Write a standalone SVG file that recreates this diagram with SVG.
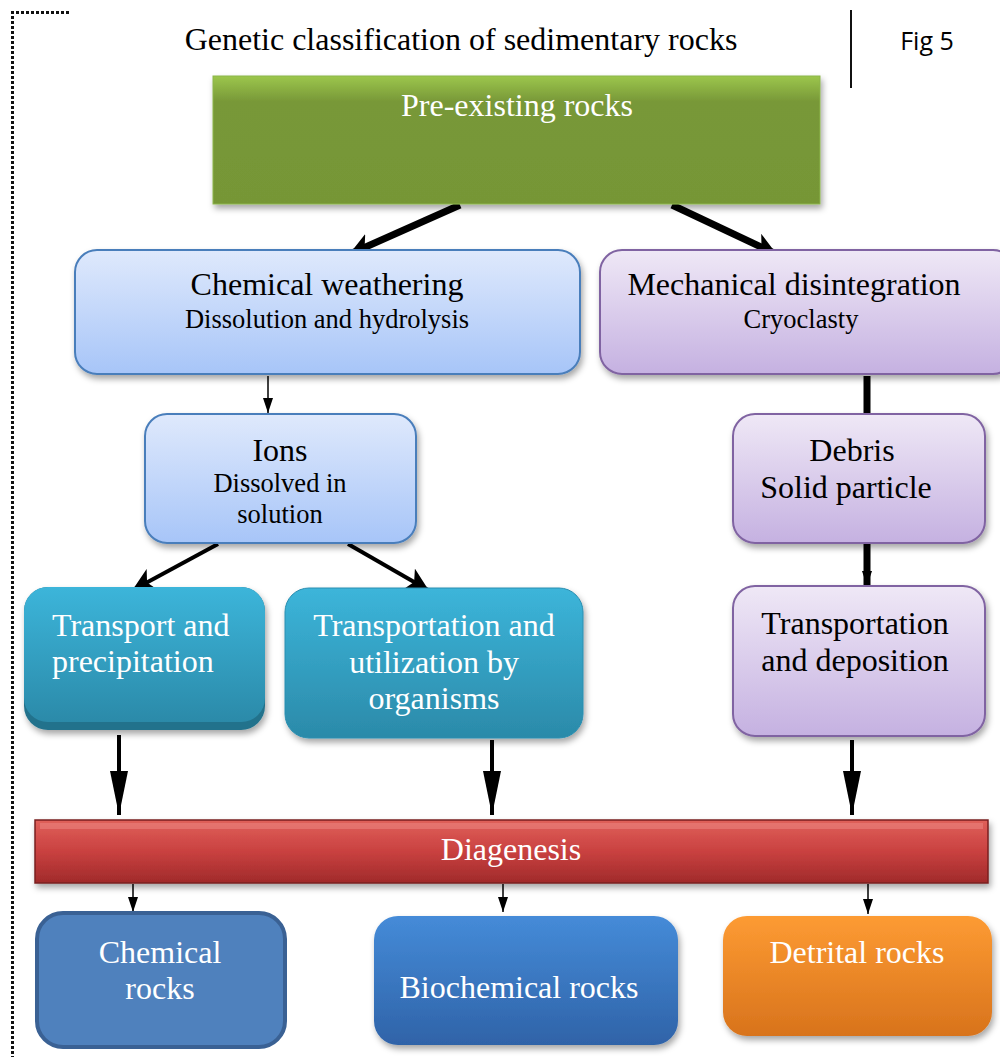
<svg xmlns="http://www.w3.org/2000/svg" width="1000" height="1057" viewBox="0 0 1000 1057">
<defs>
<style>
.t{font-family:"Liberation Serif","Times New Roman",serif;text-anchor:middle}
.big{font-size:32px}
.sm{font-size:26.5px}
.w{fill:#ffffff}
.k{fill:#000000}
.thick{stroke:#000;stroke-width:7;fill:none}
.mid{stroke:#000;stroke-width:4;fill:none}
.thin{stroke:#000;stroke-width:1.5;fill:none}
</style>
<linearGradient id="gGreen" x1="0" y1="0" x2="0" y2="1">
<stop offset="0" stop-color="#9cc64c"/><stop offset="0.2" stop-color="#789838"/><stop offset="1" stop-color="#769636"/>
</linearGradient>
<linearGradient id="gBlueL" x1="0" y1="0" x2="0" y2="1">
<stop offset="0" stop-color="#dfe9fc"/><stop offset="1" stop-color="#a7c5f8"/>
</linearGradient>
<linearGradient id="gPurp" x1="0" y1="0" x2="0" y2="1">
<stop offset="0" stop-color="#efe8f6"/><stop offset="1" stop-color="#c5b1e1"/>
</linearGradient>
<linearGradient id="gTeal" x1="0" y1="0" x2="0" y2="1">
<stop offset="0" stop-color="#3cb5da"/><stop offset="1" stop-color="#2b8aa9"/>
</linearGradient>
<linearGradient id="gRed" x1="0" y1="0" x2="0" y2="1">
<stop offset="0" stop-color="#e0605a"/><stop offset="0.5" stop-color="#c94140"/><stop offset="1" stop-color="#a02a2a"/>
</linearGradient>
<linearGradient id="gBio" x1="0" y1="0" x2="0" y2="1">
<stop offset="0" stop-color="#458bd8"/><stop offset="1" stop-color="#2f63a8"/>
</linearGradient>
<linearGradient id="gOrange" x1="0" y1="0" x2="0" y2="1">
<stop offset="0" stop-color="#fd9b33"/><stop offset="1" stop-color="#d8731c"/>
</linearGradient>
<filter id="sh" x="-10%" y="-10%" width="125%" height="130%">
<feDropShadow dx="2" dy="4" stdDeviation="3" flood-color="#000" flood-opacity="0.35"/>
</filter>
<marker id="ahBig" markerUnits="userSpaceOnUse" markerWidth="46" markerHeight="20" refX="44" refY="10" orient="auto" viewBox="0 0 46 20">
<path d="M0,1 L44,10 L0,19 Z" fill="#000"/>
</marker>
<marker id="ahT" markerUnits="userSpaceOnUse" markerWidth="24" markerHeight="24" refX="22" refY="12" orient="auto" viewBox="0 0 24 24">
<path d="M0,0 L23,12 L0,24 L6,12 Z" fill="#000"/>
</marker>
<marker id="ahS" markerUnits="userSpaceOnUse" markerWidth="16" markerHeight="10" refX="15" refY="5" orient="auto" viewBox="0 0 16 10">
<path d="M0,0 L15,5 L0,10 Z" fill="#000"/>
</marker>
</defs>
<rect width="1000" height="1057" fill="#ffffff"/>
<g id="frame">
<line x1="11" y1="12.5" x2="70" y2="12.5" stroke="#111" stroke-width="3" stroke-dasharray="3,2"/>
<line x1="12.5" y1="11" x2="12.5" y2="1057" stroke="#111" stroke-width="3" stroke-dasharray="3,2"/>
<line x1="851" y1="10" x2="851" y2="88" stroke="#111" stroke-width="2"/>
</g>
<g id="title">
<text class="t" x="461" y="50" font-size="32">Genetic classification of sedimentary rocks</text>
<text x="927" y="50" font-family="'Open Sans','Liberation Sans',sans-serif" font-size="25" text-anchor="middle">Fig 5</text>
</g>
<g id="connectors">
<line class="thick" x1="460" y1="205" x2="350" y2="254" marker-end="url(#ahT)"/>
<line class="thick" x1="672" y1="205" x2="776" y2="254" marker-end="url(#ahT)"/>
<line class="thin" x1="268" y1="376" x2="268" y2="413" marker-end="url(#ahS)"/>
<line class="thick" x1="867" y1="376" x2="867" y2="414"/>
<line class="thick" x1="867" y1="544" x2="867" y2="586" marker-end="url(#ahS)"/>
<line class="mid" x1="218" y1="544" x2="133" y2="590" marker-end="url(#ahT)"/>
<line class="mid" x1="348" y1="544" x2="428" y2="590" marker-end="url(#ahT)"/>
<line class="mid" x1="119" y1="735" x2="119" y2="815" marker-end="url(#ahBig)"/>
<line class="mid" x1="492" y1="740" x2="492" y2="815" marker-end="url(#ahBig)"/>
<line class="mid" x1="852" y1="740" x2="852" y2="815" marker-end="url(#ahBig)"/>
<line class="thin" x1="133" y1="884" x2="133" y2="912" marker-end="url(#ahS)"/>
<line class="thin" x1="503" y1="884" x2="503" y2="912" marker-end="url(#ahS)"/>
<line class="thin" x1="868" y1="884" x2="868" y2="914" marker-end="url(#ahS)"/>
</g>
<g id="pre-existing">
<rect x="213" y="76" width="607" height="128" fill="url(#gGreen)" stroke="#8cb54a" stroke-width="1" filter="url(#sh)"/>
<text class="t big w" x="517" y="116">Pre-existing rocks</text>
</g>
<g id="chemical-weathering">
<rect x="75" y="250" width="505" height="124" rx="22" fill="url(#gBlueL)" stroke="#4a7ebb" stroke-width="2" filter="url(#sh)"/>
<text class="t big k" x="327" y="295">Chemical weathering</text>
<text class="t sm k" x="327" y="328">Dissolution and hydrolysis</text>
</g>
<g id="mechanical-disintegration">
<rect x="600" y="250" width="415" height="124" rx="22" fill="url(#gPurp)" stroke="#8064a2" stroke-width="2" filter="url(#sh)"/>
<text class="t big k" x="794" y="295">Mechanical disintegration</text>
<text class="t sm k" x="801" y="328">Cryoclasty</text>
</g>
<g id="ions">
<rect x="145" y="414" width="271" height="129" rx="22" fill="url(#gBlueL)" stroke="#4a7ebb" stroke-width="2" filter="url(#sh)"/>
<text class="t big k" x="280" y="461">Ions</text>
<text class="t sm k" x="280" y="492">Dissolved in</text>
<text class="t sm k" x="280" y="523">solution</text>
</g>
<g id="debris">
<rect x="733" y="414" width="252" height="129" rx="22" fill="url(#gPurp)" stroke="#8064a2" stroke-width="2" filter="url(#sh)"/>
<text class="t big k" x="852" y="461">Debris</text>
<text class="t big k" x="846" y="498">Solid particle</text>
</g>
<g id="transport-precipitation">
<rect x="24" y="587" width="241" height="143" rx="24" fill="#24728c" filter="url(#sh)"/>
<rect x="24" y="587" width="241" height="135" rx="24" fill="url(#gTeal)"/>
<text class="t big w" x="52" y="636" style="text-anchor:start">Transport and</text>
<text class="t big w" x="52" y="672" style="text-anchor:start">precipitation</text>
</g>
<g id="transport-utilization">
<rect x="285" y="588" width="298" height="150" rx="24" fill="url(#gTeal)" stroke="#2a8eb0" stroke-width="1" filter="url(#sh)"/>
<text class="t big w" x="434" y="636">Transportation and</text>
<text class="t big w" x="434" y="673">utilization by</text>
<text class="t big w" x="434" y="709">organisms</text>
</g>
<g id="transport-deposition">
<rect x="733" y="586" width="252" height="150" rx="22" fill="url(#gPurp)" stroke="#8064a2" stroke-width="2" filter="url(#sh)"/>
<text class="t big k" x="855" y="634">Transportation</text>
<text class="t big k" x="855" y="671">and deposition</text>
</g>
<g id="diagenesis">
<rect x="35" y="820" width="953" height="63" fill="url(#gRed)" stroke="#7a1f1f" stroke-width="1.5" filter="url(#sh)"/>
<rect x="40" y="823" width="943" height="6" fill="#ee8a85" opacity="0.5"/>
<text class="t big w" x="511" y="860">Diagenesis</text>
</g>
<g id="chemical-rocks">
<rect x="37" y="913" width="248" height="134" rx="26" fill="#4f81bd" stroke="#3a6194" stroke-width="4"/>
<text class="t big w" x="160" y="963">Chemical</text>
<text class="t big w" x="160" y="999">rocks</text>
</g>
<g id="biochemical-rocks">
<rect x="374" y="916" width="304" height="129" rx="24" fill="url(#gBio)" filter="url(#sh)"/>
<text class="t big w" x="519" y="998">Biochemical rocks</text>
</g>
<g id="detrital-rocks">
<rect x="723" y="916" width="269" height="120" rx="24" fill="url(#gOrange)" filter="url(#sh)"/>
<text class="t big w" x="857" y="963">Detrital rocks</text>
</g>
</svg>
